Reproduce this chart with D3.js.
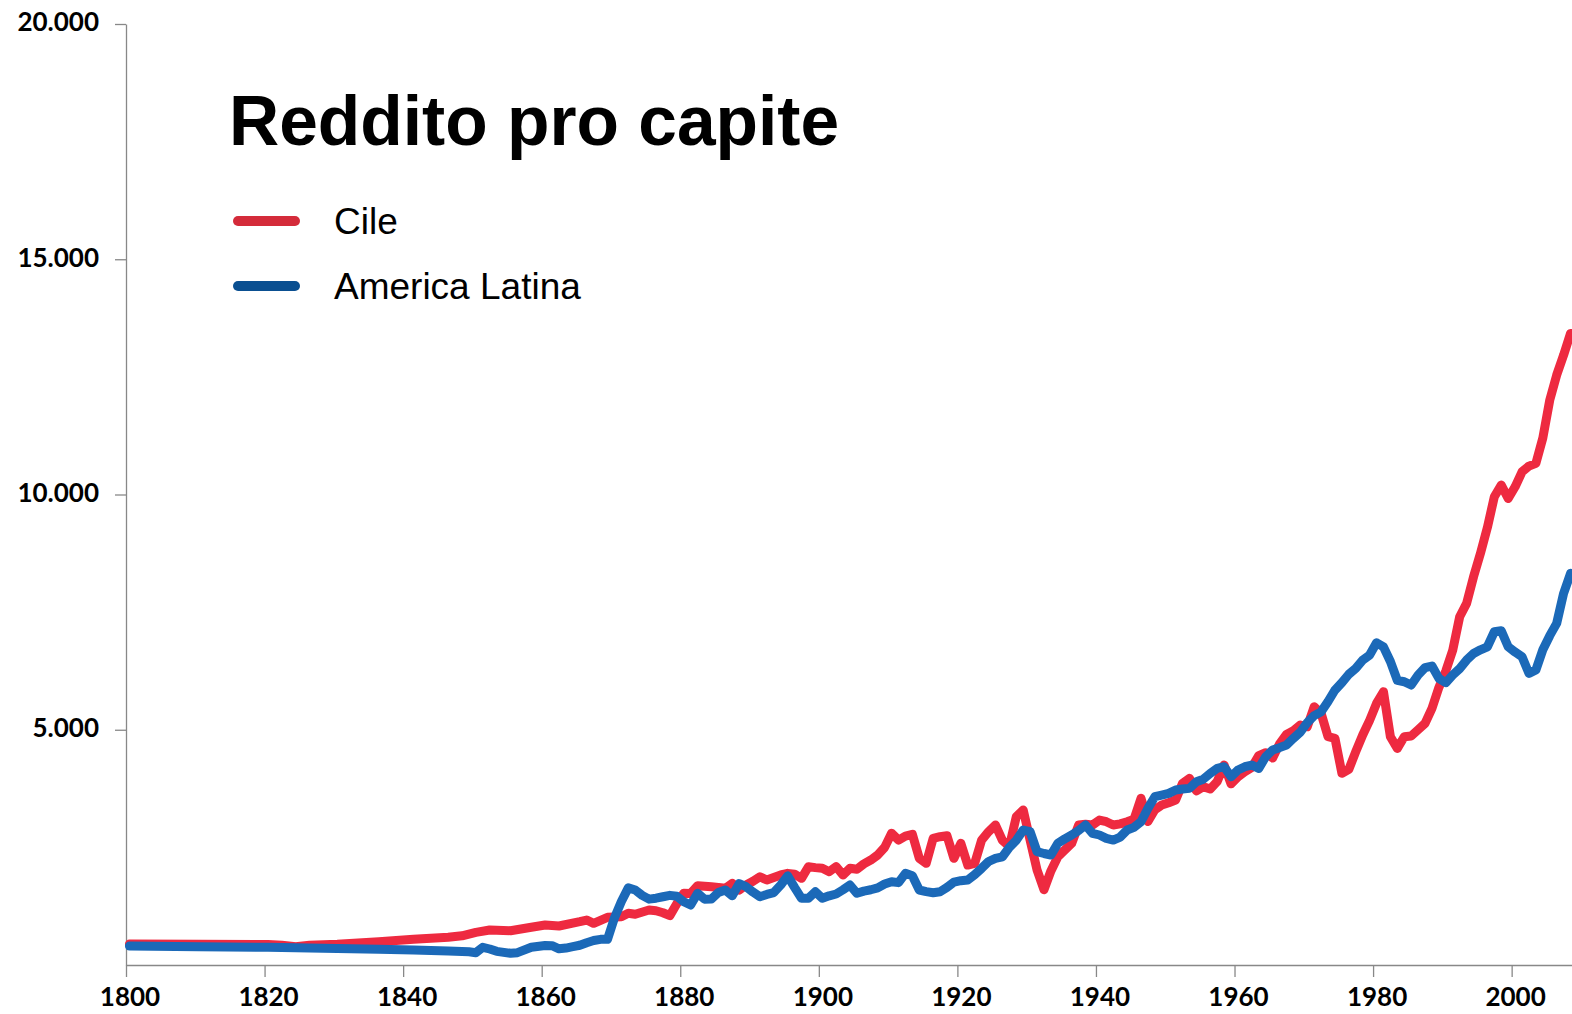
<!DOCTYPE html>
<html>
<head>
<meta charset="utf-8">
<script src="https://cdn.jsdelivr.net/npm/d3@7"></script>
<style>
  html, body { margin: 0; padding: 0; background: #ffffff; }
  svg { display: block; }
</style>
</head>
<body>
<svg id="chart" width="1572" height="1014"></svg>
<script>
// ---- Data ----
const titleText = "Reddito pro capite";
const seriesNames = ["Cile", "America Latina"];
const xTickYears = [1800, 1820, 1840, 1860, 1880, 1900, 1920, 1940, 1960, 1980, 2000];
const yTickValues = [5000, 10000, 15000, 20000];

// [year, income per capita]
const cileData = [
  [1800,446],[1810,440],[1820,435],[1822,420],[1824,390],[1826,420],[1830,440],[1836,496],
  [1841,546],[1846,588],[1848,620],[1850,694],[1852,744],[1855,729],[1858,801],[1860,850],
  [1862,829],[1865,920],[1866,956],[1867,886],[1869,1013],[1871,1027],[1872,1100],[1873,1080],
  [1875,1169],[1876,1154],[1877,1110],[1878,1050],[1879,1300],[1880,1523],[1881,1520],[1882,1686],
  [1884,1664],[1885,1650],[1886,1630],[1887,1736],[1888,1594],[1889,1700],[1890,1780],[1891,1876],
  [1892,1806],[1894,1913],[1895,1948],[1896,1930],[1897,1842],[1898,2089],[1899,2070],[1900,2055],
  [1901,1983],[1902,2089],[1903,1913],[1904,2055],[1905,2034],[1906,2150],[1907,2231],[1908,2338],
  [1909,2500],[1910,2800],[1911,2656],[1912,2740],[1913,2777],[1914,2267],[1915,2161],[1916,2692],
  [1917,2727],[1918,2748],[1919,2267],[1920,2586],[1921,2125],[1922,2161],[1923,2656],[1924,2833],
  [1925,2975],[1926,2650],[1927,2520],[1928,3151],[1929,3294],[1930,2650],[1931,2019],[1932,1600],
  [1933,2000],[1934,2300],[1935,2444],[1936,2586],[1937,2975],[1938,2990],[1939,2975],[1940,3081],
  [1941,3045],[1942,2975],[1943,3000],[1944,3045],[1945,3100],[1946,3542],[1947,3050],[1948,3300],
  [1949,3400],[1950,3450],[1951,3506],[1952,3861],[1953,3967],[1954,3700],[1955,3789],[1956,3740],
  [1957,3900],[1958,4250],[1959,3850],[1960,4000],[1961,4108],[1962,4200],[1963,4450],[1964,4512],
  [1965,4400],[1966,4700],[1967,4900],[1968,4980],[1969,5100],[1970,5064],[1971,5489],[1972,5348],
  [1973,4852],[1974,4817],[1975,4073],[1976,4158],[1977,4533],[1978,4888],[1979,5200],[1980,5560],
  [1981,5808],[1982,4852],[1983,4604],[1984,4852],[1985,4867],[1986,5000],[1987,5135],[1988,5455],
  [1989,5900],[1990,6250],[1991,6694],[1992,7402],[1993,7686],[1994,8251],[1995,8750],[1996,9300],
  [1997,9951],[1998,10200],[1999,9917],[2000,10164],[2001,10483],[2002,10604],[2003,10661],[2004,11200],
  [2005,12006],[2006,12538],[2007,12963],[2008,13424]
];

const latamData = [
  [1800,404],[1810,390],[1820,376],[1830,350],[1836,333],[1841,319],[1846,300],[1849,280],
  [1850,262],[1851,376],[1852,340],[1853,290],[1855,250],[1856,262],[1858,376],[1860,415],
  [1861,410],[1862,345],[1863,360],[1864,389],[1865,420],[1866,474],[1867,520],[1868,546],
  [1869,546],[1870,1000],[1871,1350],[1872,1640],[1873,1594],[1874,1480],[1875,1400],[1876,1420],
  [1877,1451],[1878,1480],[1879,1460],[1880,1345],[1881,1275],[1882,1524],[1883,1400],[1884,1403],
  [1885,1540],[1886,1594],[1887,1470],[1888,1728],[1889,1664],[1890,1550],[1891,1451],[1892,1500],
  [1893,1540],[1894,1700],[1895,1895],[1896,1650],[1897,1417],[1898,1417],[1899,1558],[1900,1417],
  [1901,1470],[1902,1509],[1903,1600],[1904,1700],[1905,1524],[1906,1570],[1907,1600],[1908,1640],
  [1909,1721],[1910,1770],[1911,1750],[1912,1948],[1913,1898],[1914,1594],[1915,1560],[1916,1537],
  [1917,1558],[1918,1650],[1919,1760],[1920,1792],[1921,1806],[1922,1920],[1923,2055],[1924,2200],
  [1925,2267],[1926,2300],[1927,2500],[1928,2650],[1929,2869],[1930,2833],[1931,2408],[1932,2370],
  [1933,2338],[1934,2586],[1935,2680],[1936,2763],[1937,2860],[1938,2975],[1939,2799],[1940,2763],
  [1941,2692],[1942,2656],[1943,2720],[1944,2869],[1945,2926],[1946,3045],[1947,3330],[1948,3577],
  [1949,3613],[1950,3648],[1951,3719],[1952,3740],[1953,3754],[1954,3896],[1955,3950],[1956,4074],
  [1957,4180],[1958,4214],[1959,4002],[1960,4144],[1961,4214],[1962,4250],[1963,4180],[1964,4427],
  [1965,4569],[1966,4620],[1967,4675],[1968,4817],[1969,4950],[1970,5150],[1971,5300],[1972,5380],
  [1973,5600],[1974,5844],[1975,6000],[1976,6180],[1977,6305],[1978,6481],[1979,6588],[1980,6849],
  [1981,6760],[1982,6450],[1983,6050],[1984,6020],[1985,5950],[1986,6163],[1987,6320],[1988,6354],
  [1989,6092],[1990,6000],[1991,6163],[1992,6300],[1993,6481],[1994,6620],[1995,6700],[1996,6764],
  [1997,7083],[1998,7104],[1999,6764],[2000,6650],[2001,6552],[2002,6198],[2003,6269],[2004,6700],
  [2005,7000],[2006,7261],[2007,7899],[2008,8324]
];

// ---- Styles ----
const lineColors = ["#EE2A40", "#1B69B8"];
const legendColors = ["#D42B3A", "#0A4F91"];
const axisColor = "#888888";

// ---- Layout ----
const svg = d3.select("#chart");
const plotLeft = 126, plotRight = 1574, plotTop = 24, plotBottom = 965;

const x = d3.scaleLinear().domain([1799.5, 2008.5]).range([plotLeft, plotRight]);
const y = d3.scaleLinear().domain([0, 20000]).range([plotBottom, plotTop]);
const halfStep = (x(1) - x(0)) / 2;

// Y axis
const yAxis = d3.axisLeft(y)
  .tickValues(yTickValues)
  .tickSize(11)
  .tickSizeOuter(0)
  .tickPadding(16)
  .tickFormat(d => d3.format(",")(d).replace(/,/g, "."));
const gy = svg.append("g").attr("transform", `translate(${plotLeft},0)`).call(yAxis);
gy.select(".domain").attr("stroke", axisColor).attr("stroke-width", 1.3);
gy.selectAll(".tick line").attr("stroke", axisColor).attr("stroke-width", 1.3);
gy.selectAll(".tick text")
  .attr("font-family", "Lato, 'Open Sans', sans-serif")
  .attr("font-weight", 700)
  .attr("font-size", 26)
  .attr("fill", "#000")
  .attr("dy", "0.26em");

// X axis (ticks at category boundaries, labels at category centres)
const xAxis = d3.axisBottom(x)
  .tickValues(xTickYears.map(v => v - 0.5))
  .tickSize(12)
  .tickSizeOuter(0)
  .tickPadding(11)
  .tickFormat(d => String(d + 0.5));
const gx = svg.append("g").attr("transform", `translate(0,${plotBottom})`).call(xAxis);
gx.select(".domain").attr("stroke", axisColor).attr("stroke-width", 1.3);
gx.selectAll(".tick line").attr("stroke", axisColor).attr("stroke-width", 1.3);
gx.selectAll(".tick text")
  .attr("font-family", "Lato, 'Open Sans', sans-serif")
  .attr("font-weight", 700)
  .attr("font-size", 26)
  .attr("fill", "#000")
  .attr("x", halfStep);

// Lines
const lineGen = d3.line().x(d => x(d[0])).y(d => y(d[1]));
[cileData, latamData].forEach((data, i) => {
  svg.append("path")
    .datum(data)
    .attr("d", lineGen)
    .attr("fill", "none")
    .attr("stroke", lineColors[i])
    .attr("stroke-width", 9)
    .attr("stroke-linejoin", "round")
    .attr("stroke-linecap", "round");
});

// Title
svg.append("text")
  .attr("x", 229)
  .attr("y", 145)
  .attr("font-family", "'Liberation Sans', Arial, sans-serif")
  .attr("font-weight", 700)
  .attr("font-size", 69.5)
  .attr("fill", "#000")
  .text(titleText);

// Legend
const legend = svg.append("g");
seriesNames.forEach((name, i) => {
  const cy = 221 + i * 65;
  legend.append("line")
    .attr("x1", 238).attr("x2", 295)
    .attr("y1", cy).attr("y2", cy)
    .attr("stroke", legendColors[i])
    .attr("stroke-width", 10)
    .attr("stroke-linecap", "round");
  legend.append("text")
    .attr("x", 334)
    .attr("y", cy + 13)
    .attr("font-family", "'Liberation Sans', Arial, sans-serif")
    .attr("font-size", 37)
    .attr("fill", "#000")
    .text(name);
});
</script>
</body>
</html>
